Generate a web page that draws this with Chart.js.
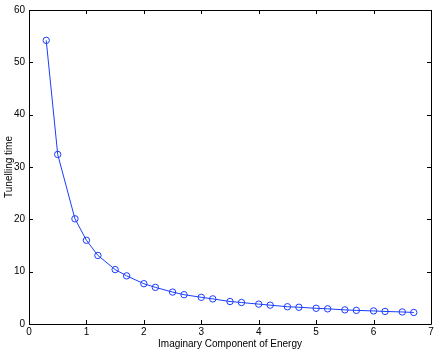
<!DOCTYPE html>
<html><head><meta charset="utf-8">
<script src="https://cdn.jsdelivr.net/npm/chart.js@4"></script>
<style>html,body{margin:0;padding:0;background:#fff}#w{width:436px;height:350px}</style>
</head><body><div id="w"><canvas id="c"></canvas></div>
<script>
const xValues = [0.3,0.5,0.8,1.0,1.2,1.5,1.7,2.0,2.2,2.5,2.7,3.0,3.2,3.5,3.7,4.0,4.2,4.5,4.7,5.0,5.2,5.5,5.7,6.0,6.2,6.5,6.7];
const tunellingTime = [54.2,32.4,20.1,16.0,13.1,10.4,9.2,7.7,7.0,6.1,5.6,5.1,4.8,4.3,4.1,3.8,3.6,3.3,3.2,3.0,2.9,2.7,2.6,2.5,2.4,2.3,2.2];
const xTicks = [0,1,2,3,4,5,6,7];
const yTicks = [0,10,20,30,40,50,60];

const FONT = 'Liberation Sans, Arial, Helvetica, sans-serif';
const framePlugin = {
  id:'frame',
  afterDatasetsDraw(chart){
    const {ctx, chartArea:a, scales:{x,y}} = chart;
    ctx.save();
    ctx.strokeStyle='#000'; ctx.lineWidth=1;
    ctx.beginPath();
    ctx.rect(Math.round(a.left)+0.5, Math.round(a.top)+0.5, Math.round(a.right-a.left), Math.round(a.bottom-a.top));
    ctx.stroke();
    const L=4;
    ctx.beginPath();
    xTicks.forEach(v=>{const p=Math.round(x.getPixelForValue(v))+0.5;
      ctx.moveTo(p,a.bottom);ctx.lineTo(p,a.bottom-L);ctx.moveTo(p,a.top);ctx.lineTo(p,a.top+L);});
    yTicks.forEach(v=>{const p=Math.round(y.getPixelForValue(v))+0.5;
      ctx.moveTo(a.left,p);ctx.lineTo(a.left+L,p);ctx.moveTo(a.right,p);ctx.lineTo(a.right-L,p);});
    ctx.stroke();
    ctx.restore();
  }
};

new Chart(document.getElementById('c'),{
  type:'line',
  data:{datasets:[{
    data: xValues.map((v,i)=>({x:v,y:tunellingTime[i]})),
    borderColor:'#1a3cff', borderWidth:1,
    pointStyle:'circle', pointRadius:3.2, pointBorderColor:'#1a3cff', pointBackgroundColor:'rgba(0,0,0,0)', pointBorderWidth:1,
    fill:false, tension:0
  }]},
  options:{
    responsive:true, maintainAspectRatio:false, animation:false,
    layout:{padding:{top:7,right:5,left:3,bottom:0}},
    plugins:{legend:{display:false},tooltip:{enabled:false}},
    scales:{
      x:{type:'linear',min:0,max:7,
        afterBuildTicks(s){s.ticks=xTicks.map(v=>({value:v}));},
        afterFit(s){s.height=26;},
        grid:{display:false,drawTicks:false},border:{display:false},
        ticks:{color:'#000',font:{family:FONT,size:10},padding:2,maxRotation:0},
        title:{display:true,text:'Imaginary Component of Energy',color:'#000',font:{family:FONT,size:10},padding:{top:0,bottom:0}}
      },
      y:{type:'linear',min:0,max:60,
        afterBuildTicks(s){s.ticks=yTicks.map(v=>({value:v}));},
        afterFit(s){s.width=26;},
        grid:{display:false,drawTicks:false},border:{display:false},
        ticks:{color:'#000',font:{family:FONT,size:10},padding:4},
        title:{display:true,text:'Tunelling time',color:'#000',font:{family:FONT,size:10},padding:{top:0,bottom:0}}
      }
    }
  },
  plugins:[framePlugin]
});
</script></body></html>
